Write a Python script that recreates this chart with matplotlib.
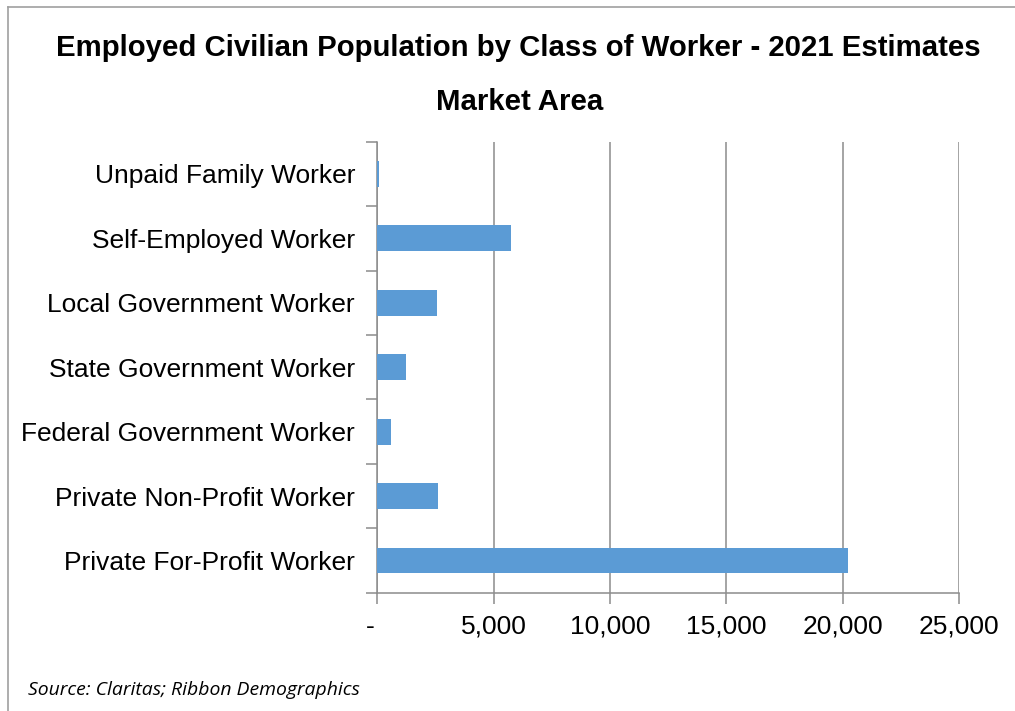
import matplotlib
matplotlib.use("Agg")
import matplotlib.pyplot as plt
from matplotlib.lines import Line2D
from matplotlib.ticker import FixedLocator, FuncFormatter
from matplotlib.transforms import ScaledTranslation

categories = ["Private For-Profit Worker", "Private Non-Profit Worker",
              "Federal Government Worker", "State Government Worker",
              "Local Government Worker", "Self-Employed Worker",
              "Unpaid Family Worker"]
values = [20250, 2610, 576, 1234, 2580, 5750, 60]
x_ticks = [0, 5000, 10000, 15000, 20000, 25000]

W, H = 1015, 711
fig = plt.figure(figsize=(W / 100, H / 100), dpi=100)
fig.patch.set_facecolor("white")

ax = fig.add_axes([377.3 / W, 1 - 592.7 / H, (959 - 377.3) / W, (592.7 - 141.7) / H])
grid_c = "#8C8C8C"
ypos = list(range(len(categories)))
ax.barh(ypos, values, height=0.4, color="#5B9BD5", zorder=3)
ax.set_xlim(0, 25000)
ax.set_ylim(-0.5, len(categories) - 0.5)

ax.xaxis.set_major_locator(FixedLocator(x_ticks))
ax.xaxis.set_major_formatter(FuncFormatter(lambda v, p: "-" if v == 0 else f"{int(v):,}"))
ax.grid(axis="x", color=grid_c, linewidth=1.1, zorder=0)

ax.set_yticks(ypos)
ax.set_yticklabels(categories)
ax.set_yticks([i - 0.5 for i in range(len(categories) + 1)], minor=True)
ax.tick_params(axis="y", which="major", length=0, pad=16, labelsize=19)
ax.tick_params(axis="y", which="minor", length=8, width=1.1, color=grid_c)
ax.tick_params(axis="x", which="major", length=8, width=1.1, color=grid_c,
               pad=8, labelsize=19)
for lab in ax.get_xticklabels() + ax.get_yticklabels():
    lab.set_fontfamily("Liberation Sans")

ax.spines["top"].set_visible(False)
ax.spines["right"].set_visible(False)
for s in ("left", "bottom"):
    ax.spines[s].set_color(grid_c)
    ax.spines[s].set_linewidth(1.1)

# shift the "-" label left like accounting format
fig.canvas.draw()
xl = ax.get_xticklabels()
xl[0].set_transform(xl[0].get_transform() + ScaledTranslation(-7 / 100, 0, fig.dpi_scale_trans))

fig.text(518.5 / W, 1 - 48.5 / H, "Employed Civilian Population by Class of Worker - 2021 Estimates",
         ha="center", va="center", fontsize=21.2, fontweight="bold", family="Liberation Sans")
fig.text(520 / W, 1 - 101.5 / H, "Market Area",
         ha="center", va="center", fontsize=21.2, fontweight="bold", family="Liberation Sans")

src = fig.text(28 / W, 1 - 690 / H, "Source: Claritas; Ribbon Demographics",
               ha="left", va="center", fontsize=14, style="italic", family="Open Sans")
fig.canvas.draw()
w = src.get_window_extent().width
src.set_fontsize(14 * 334 / w)

fig.add_artist(Line2D([8 / W, 8 / W], [0, 1 - 7 / H], transform=fig.transFigure,
                      color="#A0A0A0", linewidth=1.2))
fig.add_artist(Line2D([8 / W, 1], [1 - 7 / H, 1 - 7 / H], transform=fig.transFigure,
                      color="#A0A0A0", linewidth=1.2))

fig.savefig("out.png", dpi=100, facecolor="white")
